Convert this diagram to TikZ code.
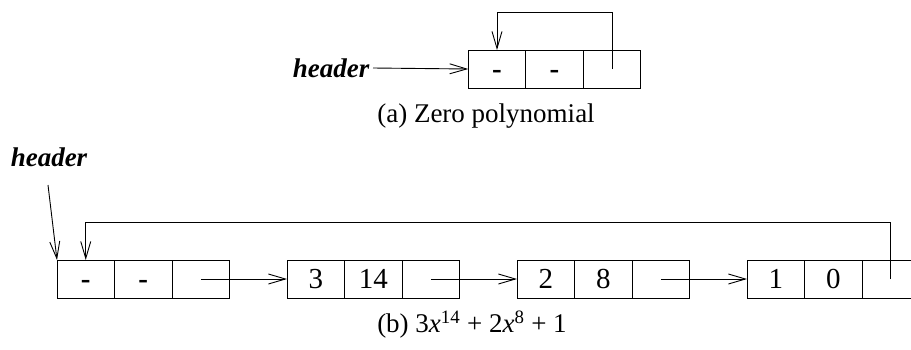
\documentclass[tikz,border=0pt]{standalone}
\usepackage{fontspec}
\setmainfont{Liberation Serif}
\usetikzlibrary{arrows.meta,positioning}
\tikzset{
  cell/.style={draw,line width=0.9pt,minimum width=57.5pt,minimum height=38pt,
    inner sep=0pt,outer sep=0pt,text height=20pt,text depth=1pt,
    font=\fontsize{29}{30}\selectfont},
  link/.style={line width=0.9pt,-{Straight Barb[length=17pt,width=10pt,line width=0.9pt]}},
  label/.style={font=\fontsize{27}{30}\selectfont}
}
\begin{document}
\begin{tikzpicture}[x=1pt,y=-1pt]
\useasboundingbox (0,0) rectangle (911,349);

% (a) zero polynomial
\node[cell] (a1) at (497,69) {\bfseries -};
\node[cell,right=0pt of a1] (a2) {\bfseries -};
\node[cell,right=0pt of a2] (a3) {};
\node[label,font=\fontsize{27}{30}\selectfont\bfseries\itshape,anchor=east] (hdra) at (373,68) {header};
\draw[link] (hdra.east) -- (a1.west);
\coordinate (topa) at (0,12);
\draw[link] (a3.center) -- (a3.center |- topa) -| (a1.north);
\node[label] (capa) at (486,116) {(a) Zero polynomial};

% (b) 3x^14 + 2x^8 + 1
\node[cell] (p0a) at (85.75,279) {\bfseries -};
\node[cell,right=0pt of p0a] (p0b) {\bfseries -};
\node[cell,right=0pt of p0b] (p0c) {};
\node[cell,right=57.5pt of p0c] (p1a) {3};
\node[cell,right=0pt of p1a] (p1b) {14};
\node[cell,right=0pt of p1b] (p1c) {};
\node[cell,right=57.5pt of p1c] (p2a) {2};
\node[cell,right=0pt of p2a] (p2b) {8};
\node[cell,right=0pt of p2b] (p2c) {};
\node[cell,right=57.5pt of p2c] (p3a) {1};
\node[cell,right=0pt of p3a] (p3b) {0};
\node[cell,right=0pt of p3b] (p3c) {};
\draw[link] (p0c.center) -- (p1a.west);
\draw[link] (p1c.center) -- (p2a.west);
\draw[link] (p2c.center) -- (p3a.west);
\coordinate (topb) at (0,222);
\draw[link] (p3c.center) -- (p3c.center |- topb) -| (p0a.north);
\node[label,font=\fontsize{27}{30}\selectfont\bfseries\itshape] (hdrb) at (49,157) {header};
\coordinate (hdrtail) at (48,185);
\draw[link] (hdrtail) -- (p0a.north west);
\node[label] (capb) at (472,325) {(b) 3\textit{x}\textsuperscript{14} + 2\textit{x}\textsuperscript{8} + 1};
\end{tikzpicture}
\end{document}
